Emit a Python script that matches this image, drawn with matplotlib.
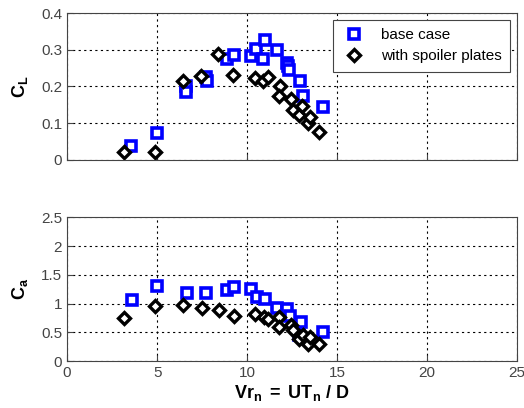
import matplotlib.pyplot as plt

# %% Datos
vr_base_cl = [3.57, 5.02, 6.63, 6.63, 7.70, 7.78, 8.90, 9.28, 10.20, 10.50, 10.90, 10.98,
              11.67, 12.19, 12.25, 12.33, 12.96, 13.10, 14.19]
cl_base = [0.038, 0.073, 0.200, 0.184, 0.225, 0.215, 0.275, 0.286, 0.284, 0.302, 0.275, 0.327,
           0.300, 0.265, 0.255, 0.245, 0.214, 0.175, 0.145]

vr_spoil_cl = [3.15, 4.87, 6.44, 7.46, 8.39, 9.22, 10.43, 10.89, 11.17, 11.80, 11.76, 12.46,
               12.56, 12.89, 13.07, 13.39, 13.48, 14.00]
cl_spoil = [0.021, 0.021, 0.215, 0.229, 0.288, 0.232, 0.223, 0.215, 0.225, 0.200, 0.175, 0.165,
            0.136, 0.123, 0.147, 0.100, 0.118, 0.077]

vr_base_ca = [3.61, 5.02, 6.67, 7.74, 8.89, 9.26, 10.19, 10.56, 10.98, 11.67, 12.19, 12.37,
              13.02, 12.90, 14.19]
ca_base = [1.07, 1.31, 1.18, 1.19, 1.24, 1.29, 1.25, 1.11, 1.08, 0.93, 0.90, 0.78,
           0.68, 0.45, 0.50]

vr_spoil_ca = [3.15, 4.87, 6.44, 7.50, 8.43, 9.26, 10.43, 10.93, 11.17, 11.78, 11.78, 12.46,
               12.56, 12.89, 13.10, 13.39, 13.48, 14.00]
ca_spoil = [0.75, 0.96, 0.97, 0.93, 0.89, 0.79, 0.82, 0.76, 0.74, 0.76, 0.60, 0.63,
            0.54, 0.39, 0.45, 0.30, 0.42, 0.30]

cl_ticks = [0, 0.1, 0.2, 0.3, 0.4]
ca_ticks = [0, 0.5, 1, 1.5, 2, 2.5]
vr_ticks = [0, 5, 10, 15, 20, 25]

# %% Figura
plt.rcParams["font.family"] = "Liberation Sans"
plt.rcParams["mathtext.fontset"] = "custom"
plt.rcParams["mathtext.rm"] = "Liberation Sans"
plt.rcParams["mathtext.bf"] = "Liberation Sans:bold"
plt.rcParams["mathtext.it"] = "Liberation Sans:italic"

fig = plt.figure(figsize=(5.24, 4.08), dpi=100)
ax1 = fig.add_axes([0.128, 0.608, 0.859, 0.36])
ax2 = fig.add_axes([0.128, 0.115, 0.859, 0.352])

estilo_base = dict(linestyle="none", marker="s", markersize=7, markerfacecolor="white",
                   markeredgecolor="#0000ff", markeredgewidth=2.6)
estilo_spoil = dict(linestyle="none", marker="D", markersize=6.5, markerfacecolor="white",
                    markeredgecolor="black", markeredgewidth=2.4)

ax1.plot(vr_base_cl, cl_base, label="base case", **estilo_base)
ax1.plot(vr_spoil_cl, cl_spoil, label="with spoiler plates", **estilo_spoil)
ax2.plot(vr_base_ca, ca_base, **estilo_base)
ax2.plot(vr_spoil_ca, ca_spoil, **estilo_spoil)

for ax, yt, lim in [(ax1, cl_ticks, (0, 0.4)), (ax2, ca_ticks, (0, 2.5))]:
    ax.set_xlim(0, 25)
    ax.set_ylim(*lim)
    ax.set_xticks(vr_ticks)
    ax.set_yticks(yt)
    ax.set_yticklabels([f"{t:g}" for t in yt])
    ax.grid(True, linestyle=(0, (2, 3)), color="black", linewidth=0.8)
    ax.tick_params(direction="in", labelsize=11, colors="#444444", length=4)
    for s in ax.spines.values():
        s.set_color("#444444")
        s.set_linewidth(0.8)

ax1.set_xticklabels([])
ax1.set_ylabel(r"$\mathbf{C_L}$", fontsize=13, labelpad=8)
ax2.set_ylabel(r"$\mathbf{C_a}$", fontsize=13, labelpad=8)
ax2.set_xlabel(r"$\mathbf{Vr_n\ =\ UT_n\ /\ D}$", fontsize=13, labelpad=2)

leg = ax1.legend(loc="upper right", fontsize=11, frameon=True, fancybox=False,
                 borderpad=0.55, labelspacing=0.45, handlelength=1.6, handletextpad=1.0,
                 borderaxespad=0.45, numpoints=1)
leg.get_frame().set_edgecolor("#444444")
leg.get_frame().set_linewidth(0.8)
leg.get_frame().set_alpha(1)

fig.savefig("out.png", dpi=100)
